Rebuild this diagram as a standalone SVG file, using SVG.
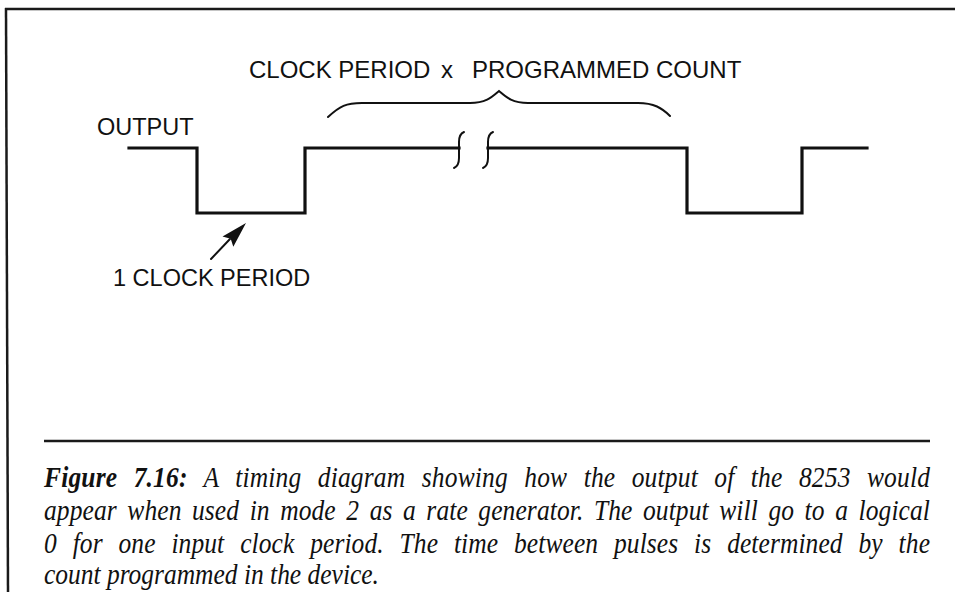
<svg xmlns="http://www.w3.org/2000/svg" width="955" height="592" viewBox="0 0 955 592">
<style>
.bg{fill:#ffffff}
.frame{stroke:#1a1a1a;stroke-width:2.5;fill:none}
.lbl{font-family:"Liberation Sans",Arial,Helvetica,sans-serif;fill:#111111}
.wave{stroke:#111111;stroke-width:3.2;fill:none;stroke-linejoin:miter;stroke-linecap:square}
.thin{stroke:#111111;stroke-width:2;fill:none;stroke-linecap:round}
.cap{font-family:"Liberation Serif","Times New Roman",serif;font-style:italic;font-size:28.5px;fill:#111111}
</style>
<rect class="bg" x="0" y="0" width="955" height="592"/>
<g id="frame">
<line class="frame" x1="5" y1="9" x2="955" y2="9"/>
<line class="frame" x1="6" y1="8" x2="8" y2="592"/>
</g>
<g id="title">
<text class="lbl" x="249" y="78" font-size="24">CLOCK PERIOD<tspan x="441">x</tspan><tspan x="472">PROGRAMMED COUNT</tspan></text>
</g>
<g id="brace">
<path class="thin" d="M328,117 C340,106 346,103 362,103 L470,103 C486,103 492,97 499,91 C506,97 512,103 528,103 L638,103 C654,103 662,108 670,116"/>
</g>
<g id="output-label">
<text class="lbl" x="97" y="135" font-size="23.5">OUTPUT</text>
</g>
<g id="waveform">
<polyline class="wave" points="129,148 197,148 197,213 305,213 305,148 459,148"/>
<polyline class="wave" points="488,148 687,148 687,213 802,213 802,148 867,148"/>
<path class="thin" stroke-width="2.6" d="M464,132 Q459,134 459,142 L459,158 Q459,166 454,168"/>
<path class="thin" stroke-width="2.6" d="M493,132 Q488,134 488,142 L488,158 Q488,166 483,168"/>
</g>
<g id="clock-label">
<text class="lbl" x="113" y="286" font-size="23.5">1 CLOCK PERIOD</text>
</g>
<g id="connectors">
<line class="thin" x1="211" y1="259" x2="230" y2="239"/>
<polygon fill="#111111" points="246,223 233.3,246.8 230.7,238.7 222.5,236.4"/>
</g>
<g id="caption">
<line stroke="#1a1a1a" stroke-width="2.5" x1="44" y1="441" x2="930" y2="441"/>
<g transform="scale(0.894,1)">
<text class="cap" x="49.2" y="487" word-spacing="11" textLength="991" lengthAdjust="spacing"><tspan font-weight="bold">Figure 7.16:</tspan> A timing diagram showing how the output of the 8253 would</text>
<text class="cap" x="49.2" y="520" word-spacing="4.5" textLength="991" lengthAdjust="spacing">appear when used in mode 2 as a rate generator. The output will go to a logical</text>
<text class="cap" x="49.2" y="553" word-spacing="10.5" textLength="991" lengthAdjust="spacing">0 for one input clock period. The time between pulses is determined by the</text>
<text class="cap" x="49.2" y="584">count programmed in the device.</text>
</g>
</g>
</svg>
